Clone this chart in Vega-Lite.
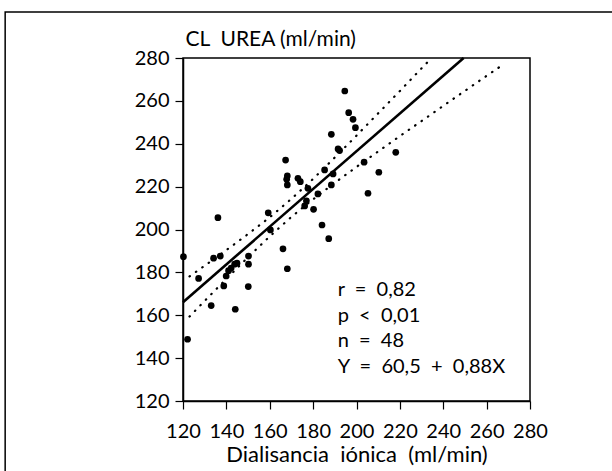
{
  "$schema": "https://vega.github.io/schema/vega-lite/v6.json",
  "width": 347,
  "height": 343,
  "autosize": "none",
  "padding": {"left": 183, "top": 58, "right": 82, "bottom": 70},
  "background": "white",
  "config": {
    "font": "Lato",
    "view": {"stroke": "black", "strokeWidth": 1.5},
    "axis": {"grid": false, "domainColor": "black", "tickColor": "black", "labelColor": "black", "titleColor": "black", "domainWidth": 1.5, "tickWidth": 1.2}
  },
  "datasets": {
    "points": [
      {"x": 120.2, "y": 187.3}, {"x": 122.1, "y": 148.8}, {"x": 127.2, "y": 177.2}, {"x": 133.0, "y": 164.5},
      {"x": 134.1, "y": 186.6}, {"x": 137.2, "y": 187.6}, {"x": 136.1, "y": 205.5}, {"x": 138.8, "y": 173.7},
      {"x": 139.9, "y": 178.3}, {"x": 141.0, "y": 180.8}, {"x": 142.2, "y": 182.0}, {"x": 143.8, "y": 183.8},
      {"x": 144.9, "y": 184.3}, {"x": 144.1, "y": 162.8}, {"x": 150.2, "y": 187.6}, {"x": 150.2, "y": 183.8},
      {"x": 150.1, "y": 173.4}, {"x": 159.3, "y": 207.8}, {"x": 160.3, "y": 199.8}, {"x": 166.1, "y": 191.0},
      {"x": 168.1, "y": 181.7}, {"x": 167.3, "y": 232.4}, {"x": 168.1, "y": 225.0}, {"x": 167.8, "y": 223.4},
      {"x": 168.1, "y": 220.8}, {"x": 173.0, "y": 223.9}, {"x": 174.1, "y": 222.3}, {"x": 177.6, "y": 219.2},
      {"x": 176.9, "y": 213.4}, {"x": 176.1, "y": 211.0}, {"x": 180.2, "y": 209.4}, {"x": 182.2, "y": 216.6},
      {"x": 185.3, "y": 227.8}, {"x": 189.2, "y": 225.9}, {"x": 188.4, "y": 220.8}, {"x": 184.1, "y": 202.1},
      {"x": 187.2, "y": 195.7}, {"x": 188.4, "y": 244.4}, {"x": 191.5, "y": 237.6}, {"x": 192.2, "y": 236.8},
      {"x": 194.6, "y": 264.6}, {"x": 196.4, "y": 254.5}, {"x": 198.4, "y": 251.4}, {"x": 199.5, "y": 247.5},
      {"x": 203.5, "y": 231.4}, {"x": 210.3, "y": 226.7}, {"x": 205.3, "y": 216.9}, {"x": 218.1, "y": 236.0}
    ],
    "fit": [{"x": 120, "y": 166.1}, {"x": 249.4, "y": 280}],
    "bands": [
      {"band": "upper", "x": 123, "y": 178.1}, {"band": "upper", "x": 130, "y": 183.1},
      {"band": "upper", "x": 140, "y": 190.4}, {"band": "upper", "x": 150, "y": 197.9},
      {"band": "upper", "x": 160, "y": 205.7}, {"band": "upper", "x": 170, "y": 214.3},
      {"band": "upper", "x": 180, "y": 223.6}, {"band": "upper", "x": 190, "y": 233.6},
      {"band": "upper", "x": 200, "y": 243.8}, {"band": "upper", "x": 210, "y": 254.2},
      {"band": "upper", "x": 220, "y": 264.6}, {"band": "upper", "x": 230, "y": 275.2},
      {"band": "upper", "x": 233, "y": 278.3},
      {"band": "lower", "x": 123, "y": 159.4}, {"band": "lower", "x": 130, "y": 166.7},
      {"band": "lower", "x": 140, "y": 177.0}, {"band": "lower", "x": 150, "y": 187.1},
      {"band": "lower", "x": 160, "y": 196.8}, {"band": "lower", "x": 170, "y": 205.9},
      {"band": "lower", "x": 180, "y": 214.1}, {"band": "lower", "x": 190, "y": 221.8},
      {"band": "lower", "x": 200, "y": 229.2}, {"band": "lower", "x": 210, "y": 236.4},
      {"band": "lower", "x": 220, "y": 243.6}, {"band": "lower", "x": 230, "y": 250.6},
      {"band": "lower", "x": 240, "y": 257.7}, {"band": "lower", "x": 250, "y": 264.7},
      {"band": "lower", "x": 260, "y": 271.7}, {"band": "lower", "x": 268, "y": 277.2}
    ],
    "one": [{}]
  },
  "layer": [
    {
      "data": {"name": "one"},
      "mark": {"type": "rect", "filled": false, "fill": null, "stroke": "black", "strokeWidth": 1.5, "clip": false},
      "encoding": {
        "x": {"datum": 38.0, "type": "quantitative", "scale": {"domain": [120, 280], "nice": false, "zero": false}},
        "x2": {"datum": 340},
        "y": {"datum": 301.5, "type": "quantitative", "scale": {"domain": [120, 280], "nice": false, "zero": false}},
        "y2": {"datum": 60}
      }
    },
    {
      "data": {"name": "bands"},
      "mark": {"type": "line", "color": "black", "strokeWidth": 2.2, "strokeDash": [0.5, 7.3], "strokeCap": "round"},
      "encoding": {
        "x": {"field": "x", "type": "quantitative"},
        "y": {"field": "y", "type": "quantitative"},
        "detail": {"field": "band"}
      }
    },
    {
      "data": {"name": "fit"},
      "mark": {"type": "line", "color": "black", "strokeWidth": 2.6},
      "encoding": {
        "x": {"field": "x", "type": "quantitative"},
        "y": {"field": "y", "type": "quantitative"}
      }
    },
    {
      "data": {"name": "points"},
      "mark": {"type": "circle", "color": "black", "opacity": 1, "size": 45},
      "encoding": {
        "x": {"field": "x", "type": "quantitative",
          "scale": {"domain": [120, 280], "nice": false, "zero": false},
          "axis": {"values": [120, 140, 160, 180, 200, 220, 240, 260, 280], "title": "Dialisancia\u00a0 iónica\u00a0 (ml/min)", "titleFontSize": 22, "titleFontWeight": "normal", "titlePadding": 3, "labelFontSize": 20, "tickSize": 8, "labelPadding": 12, "labelFlush": false, "labelOverlap": false}},
        "y": {"field": "y", "type": "quantitative",
          "scale": {"domain": [120, 280], "nice": false, "zero": false},
          "axis": {"values": [120, 140, 160, 180, 200, 220, 240, 260, 280], "title": "CL\u00a0 UREA (ml/min)", "titleAngle": 0, "titleAlign": "left", "titleBaseline": "alphabetic", "titleX": 2, "titleY": -13, "titleFontSize": 21, "titleFontWeight": "normal", "labelFontSize": 20, "tickSize": 8, "labelPadding": 6, "labelFlush": false, "labelOverlap": false}}
      }
    },
    {
      "data": {"name": "one"},
      "mark": {"type": "text", "align": "left", "baseline": "alphabetic", "fontSize": 20, "lineHeight": 25.7, "color": "black"},
      "encoding": {
        "x": {"datum": 191.3, "type": "quantitative"},
        "y": {"datum": 169, "type": "quantitative"},
        "text": {"value": ["r\u00a0 =\u00a0 0,82", "p\u00a0 <\u00a0 0,01", "n\u00a0 =\u00a0 48", "Y\u00a0 =\u00a0 60,5\u00a0 +\u00a0 0,88X"]}
      }
    }
  ]
}
